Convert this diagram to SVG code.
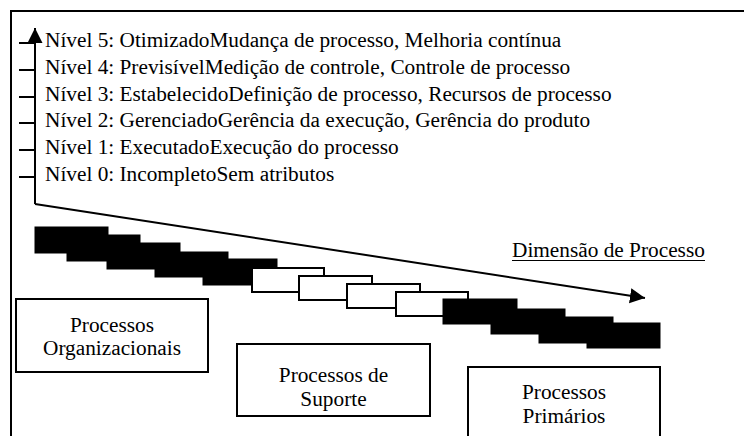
<svg xmlns="http://www.w3.org/2000/svg" width="744" height="436" viewBox="0 0 744 436">
<style>
text{font-family:'Liberation Serif','DejaVu Serif',serif;font-size:21.3px;fill:#000}
.ln{stroke:#000;stroke-width:2;fill:none}
.blk{fill:#000;stroke:#000;stroke-width:1}
.wht{fill:#fff;stroke:#000;stroke-width:2}
.box{fill:#fff;stroke:#000;stroke-width:2}
.c{text-anchor:middle}
</style>
<defs>
<marker id="ah" markerWidth="16" markerHeight="16" refX="15" refY="7.5" orient="auto" markerUnits="userSpaceOnUse">
<path d="M0,0 L15,7.5 L0,15 Z" fill="#000"/>
</marker>
</defs>
<rect x="0" y="0" width="744" height="436" fill="#fff"/>
<rect id="frame" x="11" y="11" width="800" height="500" fill="none" stroke="#000" stroke-width="2"/>
<g id="connectors">
<path class="ln" d="M35,204 L35,28" marker-end="url(#ah)"/>
<path class="ln" d="M35,204 L645,298" marker-end="url(#ah)" stroke-width="1.6"/>
<path class="ln" d="M19,43 H35 M19,70 H35 M19,97 H35 M19,123 H35 M19,150 H35 M19,177 H35"/>
</g>
<g id="levels">
<text x="45" y="47">Nível 5: OtimizadoMudança de processo, Melhoria contínua</text>
<text x="45" y="74">Nível 4: PrevisívelMedição de controle, Controle de processo</text>
<text x="45" y="101">Nível 3: EstabelecidoDefinição de processo, Recursos de processo</text>
<text x="45" y="127">Nível 2: GerenciadoGerência da execução, Gerência do produto</text>
<text x="45" y="154">Nível 1: ExecutadoExecução do processo</text>
<text x="45" y="181">Nível 0: IncompletoSem atributos</text>
</g>
<g id="dimensao">
<text x="512" y="257">Dimensão de Processo</text>
<line x1="512" y1="260.5" x2="705" y2="260.5" stroke="#000" stroke-width="1.2"/>
</g>
<g id="staircase">
<rect class="blk" x="35" y="227" width="73" height="26"/>
<rect class="blk" x="67" y="235" width="73" height="26"/>
<rect class="blk" x="107" y="243" width="73" height="26"/>
<rect class="blk" x="155" y="252" width="73" height="25"/>
<rect class="blk" x="203" y="259" width="74" height="26"/>
<rect class="wht" x="252" y="268" width="72" height="24"/>
<rect class="wht" x="299" y="276" width="73" height="24"/>
<rect class="wht" x="347" y="284" width="73" height="24"/>
<rect class="wht" x="396" y="292" width="72" height="24"/>
<rect class="blk" x="443" y="299" width="74" height="25"/>
<rect class="blk" x="491" y="309" width="74" height="25"/>
<rect class="blk" x="539" y="317" width="74" height="26"/>
<rect class="blk" x="587" y="323" width="73" height="25"/>
</g>
<g id="org">
<rect class="box" x="16" y="299" width="192" height="73"/>
<text class="c" x="112" y="332">Processos</text>
<text class="c" x="112" y="355">Organizacionais</text>
</g>
<g id="suporte">
<rect class="box" x="237" y="344" width="193" height="72"/>
<text class="c" x="333.5" y="382">Processos de</text>
<text class="c" x="333.5" y="406">Suporte</text>
</g>
<g id="primarios">
<rect class="box" x="468" y="367" width="192" height="100"/>
<text class="c" x="564" y="399">Processos</text>
<text class="c" x="564" y="423">Primários</text>
</g>
</svg>
